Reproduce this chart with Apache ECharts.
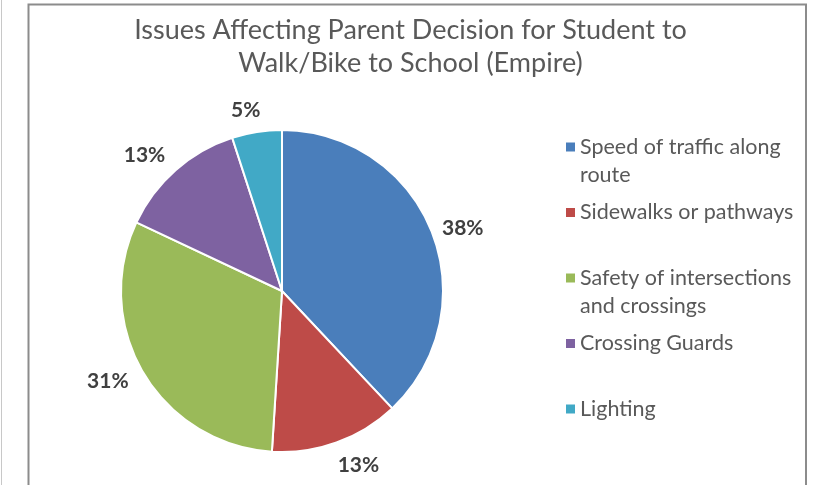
<!DOCTYPE html>
<html>
<head>
<meta charset="utf-8">
<script src="https://cdn.jsdelivr.net/npm/echarts@6/dist/echarts.min.js"></script>
<style>
  html, body { margin: 0; padding: 0; background: #fff; }
  #chart { width: 821px; height: 485px; }
</style>
</head>
<body>
<div id="chart"></div>
<script>
// Survey responses: share of parents citing each issue (percent)
const categories = [
  'Speed of traffic along route',
  'Sidewalks or pathways',
  'Safety of intersections and crossings',
  'Crossing Guards',
  'Lighting'
];
// Legend text, wrapped the way it appears beside the pie
const legendLines = [
  ['Speed of traffic along', 'route'],
  ['Sidewalks or pathways', ''],
  ['Safety of intersections', 'and crossings'],
  ['Crossing Guards', ''],
  ['Lighting', '']
];
const values = [38, 13, 31, 13, 5];
const colors = ['#4A7EBB', '#BE4B48', '#9ABA59', '#7E62A1', '#41A9C6'];
const titleLines = ['Issues Affecting Parent Decision for Student to', 'Walk/Bike to School (Empire)'];

// per-slice label offsets (hidden leader line: radial length, horizontal length)
const labelOffsets = [[10, -2], [24, -10], [16, -2], [20, -6], [22, -10]];

const FONT = 'Lato';
const chart = echarts.init(document.getElementById('chart'));

// rich-text styles: a coloured square per entry, the text, and an indent for wrapped lines
const LH = 28;
const rich = {
  t: { fontFamily: FONT, fontSize: 21.5, color: '#595959', lineHeight: LH },
  ind: { width: 14, height: 10, lineHeight: LH },
  gap: { width: 5, lineHeight: LH }
};
colors.forEach((c, i) => {
  rich['sq' + i] = { backgroundColor: c, width: 9, height: 9, lineHeight: LH };
});

chart.setOption({
  animation: false,
  color: colors,
  title: {
    text: titleLines.join('\n'),
    left: 'center',
    top: 14,
    padding: 0,
    textStyle: {
      fontFamily: FONT,
      fontSize: 27,
      fontWeight: 'normal',
      color: '#595959',
      lineHeight: 33
    }
  },
  legend: {
    orient: 'vertical',
    left: 560,
    top: 136,
    padding: 0,
    itemGap: 15.5,
    itemWidth: 0,
    itemHeight: 0,
    icon: 'rect',
    selectedMode: false,
    data: categories,
    formatter: function (name) {
      const i = categories.indexOf(name);
      const l = legendLines[i];
      return '{sq' + i + '|}{gap|}{t|' + l[0] + '}\n{ind|}{t|' + (l[1] || ' ') + '}';
    },
    textStyle: { rich: rich, padding: 0 }
  },
  graphic: [
    // chart-area frame
    { type: 'polyline', shape: { points: [[28.5, 490], [28.5, 4.5], [806, 4.5], [806, 490]] },
      style: { stroke: '#8c8c8c', lineWidth: 2, fill: null }, silent: true },
    // neighbouring edge at the far left
    { type: 'line', shape: { x1: 1.5, y1: 0, x2: 1.5, y2: 485 },
      style: { stroke: '#c8c8c8', lineWidth: 1 }, silent: true }
  ],
  series: [{
    type: 'pie',
    center: [282, 291],
    radius: [0, 161],
    startAngle: 90,
    clockwise: true,
    avoidLabelOverlap: false,
    itemStyle: { borderColor: '#fff', borderWidth: 2 },
    label: {
      show: true,
      position: 'outside',
      formatter: '{c}%',
      fontFamily: FONT,
      fontSize: 21,
      fontWeight: 'bold',
      color: '#404040',
      distanceToLabelLine: 3
    },
    labelLine: { show: false, length: 18, length2: 0 },
    emphasis: { disabled: true },
    data: categories.map((n, i) => ({
      name: n,
      value: values[i],
      labelLine: { show: false, length: labelOffsets[i][0], length2: labelOffsets[i][1] }
    }))
  }]
});
</script>
</body>
</html>
